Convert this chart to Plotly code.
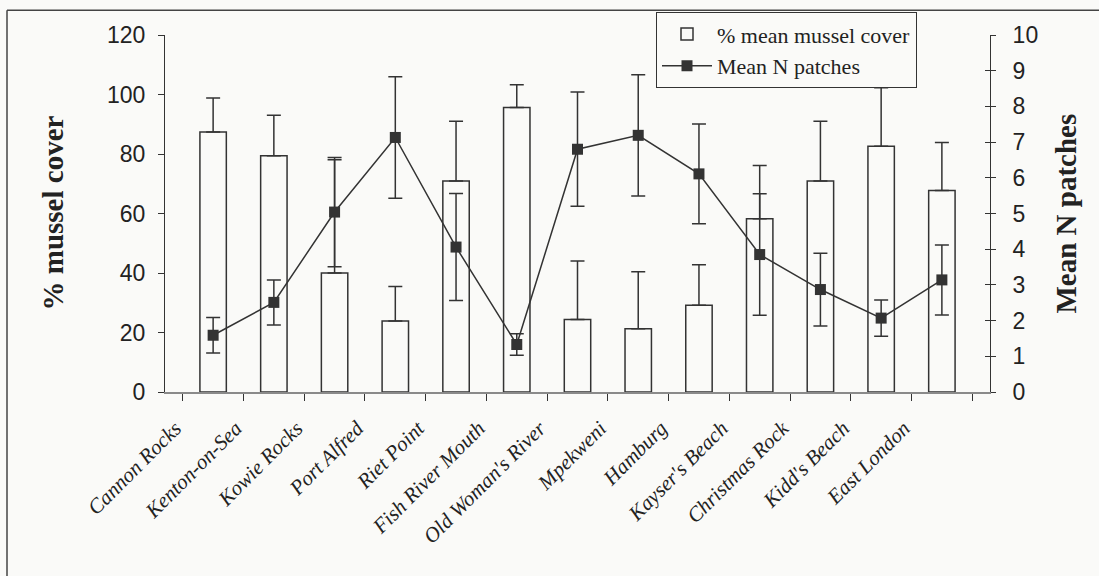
import plotly.graph_objects as go

sites = ["Cannon Rocks", "Kenton-on-Sea", "Kowie Rocks", "Port Alfred", "Riet Point",
         "Fish River Mouth", "Old Woman's River", "Mpekweni", "Hamburg", "Kayser's Beach",
         "Christmas Rock", "Kidd's Beach", "East London"]
cover = [87.4, 79.4, 40.0, 23.9, 70.9, 95.6, 24.4, 21.3, 29.2, 58.2, 70.9, 82.6, 67.7]
cover_err = [11.4, 13.6, 38.1, 11.6, 20.1, 7.7, 19.6, 19.1, 13.6, 17.9, 20.1, 19.7, 16.2]
npatch = [1.59, 2.51, 5.04, 7.13, 4.06, 1.33, 6.80, 7.19, 6.11, 3.85, 2.87, 2.07, 3.14]
npatch_err = [0.50, 0.63, 1.53, 1.70, 1.50, 0.30, 1.60, 1.70, 1.40, 1.70, 1.02, 0.51, 0.98]

BG = "#fafaf8"
DARK = "#333333"
SERIF = "Liberation Serif"
SANS = "Liberation Sans"

fig = go.Figure()
fig.add_trace(go.Bar(
    x=sites, y=cover, name="% mean mussel cover",
    width=0.435,
    marker=dict(color=BG, line=dict(color=DARK, width=1.5)),
    error_y=dict(type="data", array=cover_err, arrayminus=[0] * len(cover_err),
                 symmetric=False, color=DARK, thickness=1.5, width=7),
    yaxis="y",
))
fig.add_trace(go.Scatter(
    x=sites, y=npatch, name="Mean N patches", mode="lines+markers",
    line=dict(color=DARK, width=1.5),
    marker=dict(symbol="square", size=11, color=DARK),
    error_y=dict(type="data", array=npatch_err, color=DARK, thickness=1.5, width=7),
    yaxis="y2",
))
# invisible trace to carry the inner ticks of the right axis
fig.add_trace(go.Scatter(x=sites, y=npatch, mode="markers", marker=dict(opacity=0),
                         showlegend=False, hoverinfo="skip", yaxis="y3"))

PW, PH = 825, 362  # plot area size in px

fig.update_layout(
    width=1099, height=576,
    paper_bgcolor=BG, plot_bgcolor=BG,
    margin=dict(l=165, r=109, t=30, b=184),
    showlegend=True,
    bargap=0.565,
    xaxis=dict(
        type="category", showgrid=False, zeroline=False,
        showline=True, linecolor="#8a8a8a", linewidth=1.5,
        ticks="outside", tickson="boundaries", ticklen=7, tickcolor=DARK, tickwidth=1,
        tickangle=-45,
        tickfont=dict(family=SERIF, size=21, color="#222222", style="italic"),
        ticklabelshift=-38, ticklabelstandoff=14,
    ),
    yaxis=dict(
        range=[0, 120], dtick=20, showgrid=False, zeroline=False,
        showline=True, linecolor=DARK, linewidth=1,
        ticks="outside", ticklen=6, tickcolor=DARK,
        tickfont=dict(family=SANS, size=23, color="#222222"),
        ticklabelstandoff=8,
    ),
    yaxis2=dict(
        range=[0, 10], dtick=1, overlaying="y", side="right", anchor="x",
        showgrid=False, zeroline=False,
        showline=True, linecolor=DARK, linewidth=1,
        ticks="outside", ticklen=5, tickcolor=DARK,
        tickfont=dict(family=SANS, size=23, color="#222222"),
        ticklabelstandoff=12,
    ),
    yaxis3=dict(
        range=[0, 10], dtick=1, overlaying="y", side="right", anchor="x",
        showgrid=False, zeroline=False, showline=False,
        ticks="inside", ticklen=5, tickcolor=DARK, showticklabels=False,
    ),
    legend=dict(
        x=(656 - 165) / PW, y=(392 - 7) / PH, xanchor="left", yanchor="top",
        bgcolor=BG, bordercolor=DARK, borderwidth=1,
        font=dict(family=SERIF, size=22, color="#222222"),
        itemwidth=50, tracegroupgap=4,
    ),
    annotations=[
        dict(text="<b>% mussel cover</b>", x=(52 - 165) / PW, y=0.5, xref="paper", yref="paper",
             xanchor="center", yanchor="middle", textangle=-90, showarrow=False,
             font=dict(family=SERIF, size=29, color="#222222")),
        dict(text="<b>Mean N patches</b>", x=(1065 - 165) / PW, y=0.5, xref="paper", yref="paper",
             xanchor="center", yanchor="middle", textangle=-90, showarrow=False,
             font=dict(family=SERIF, size=29, color="#222222")),
    ],
    shapes=[
        dict(type="line", xref="paper", yref="paper",
             x0=(7 - 165) / PW, x1=(1120 - 165) / PW, y0=(392 - 5) / PH, y1=(392 - 5) / PH,
             line=dict(color="#444444", width=1.5)),
        dict(type="line", xref="paper", yref="paper",
             x0=(7 - 165) / PW, x1=(7 - 165) / PW, y0=(392 - 5) / PH, y1=(392 - 610) / PH,
             line=dict(color="#444444", width=1.5)),
    ],
)

fig.write_html(
    "out.html",
    config={"displayModeBar": False},
    post_script="document.body.style.margin='0';document.body.style.background='#fafaf8';"
                "document.documentElement.style.background='#fafaf8';",
)
